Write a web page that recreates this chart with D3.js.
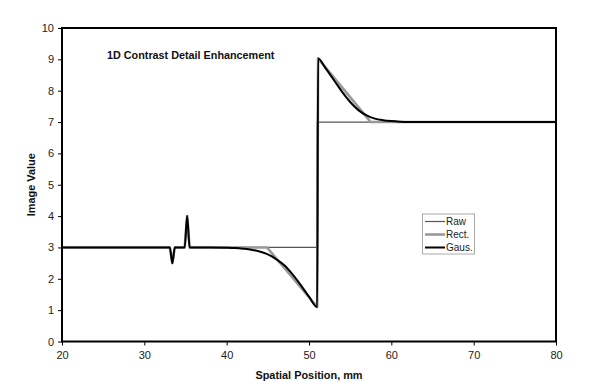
<!DOCTYPE html>
<html><head><meta charset="utf-8">
<script src="https://cdn.jsdelivr.net/npm/d3@7"></script>
<style>
html,body{margin:0;padding:0;background:#fff;}
text{font-family:"Liberation Sans",Arial,sans-serif;}
</style></head>
<body><svg id="c" width="600" height="387"></svg>
<script>
// Data
const rawX   = [20, 33.1, 33.4, 33.7, 34.9, 35.2, 35.5, 51.0, 51.0, 80];
const rawY   = [3,  3,    2.5,  3,    3,    4,    3,    3,    7,    7];
const rectX  = [20, 33.1, 33.4, 33.7, 34.9, 35.2, 35.5, 44.9, 51.0, 51.1, 57.5, 80];
const rectY  = [3,  3,    2.5,  3,    3,    4,    3,    3,    1.1,  9.03, 7,    7];
const gausX  = [20, 33.1, 33.4, 33.7, 34.9, 35.2, 35.5, 38, 40, 41, 42, 43, 44, 45, 46, 47, 48, 49, 50, 51.0,
                51.1, 52, 53, 54, 55, 56, 57, 58, 59, 60, 61, 62, 80];
const gausY  = [3,  3,    2.5,  3,    3,    4,    3,    3.0, 2.99, 2.98, 2.96, 2.93, 2.87, 2.78, 2.63, 2.43, 2.14, 1.80, 1.43, 1.1,
                9.03, 8.72, 8.35, 7.97, 7.64, 7.38, 7.21, 7.11, 7.06, 7.03, 7.01, 7.0, 7.0];
const seriesNames = ["Raw", "Rect.", "Gaus."];
const xTicks = [20, 30, 40, 50, 60, 70, 80];
const yTicks = [0, 1, 2, 3, 4, 5, 6, 7, 8, 9, 10];
const titleText = "1D Contrast Detail Enhancement";
const xTitle = "Spatial Position, mm";
const yTitle = "Image Value";

const svg = d3.select("#c");
const L = 62, R = 556, T = 28, B = 341.5;
const x = d3.scaleLinear().domain([20, 80]).range([L, R]);
const y = d3.scaleLinear().domain([0, 10]).range([B, T]);

// axes
const ax = svg.append("g").attr("transform", `translate(0,${B})`)
  .call(d3.axisBottom(x).tickValues(xTicks).tickSize(4).tickPadding(6));
const ay = svg.append("g").attr("transform", `translate(${L},0)`)
  .call(d3.axisLeft(y).tickValues(yTicks).tickSize(4).tickPadding(4));
[ax, ay].forEach(g => {
  g.select(".domain").remove();
  g.selectAll("line").attr("stroke", "#000");
  g.selectAll("text").attr("font-size", 11).attr("fill", "#222")
    .attr("font-family", "Liberation Sans, Arial, sans-serif");
});

const styles = [
  {c: "#555", w: 1.2},
  {c: "#999", w: 2.6},
  {c: "#000", w: 2}
];
const data = [
  rawX.map((d, i) => [d, rawY[i]]),
  rectX.map((d, i) => [d, rectY[i]]),
  gausX.map((d, i) => [d, gausY[i]])
];
const curves = [d3.curveLinear, d3.curveLinear, d3.curveMonotoneX];
data.forEach((pts, i) => {
  svg.append("path").datum(pts)
    .attr("fill", "none").attr("stroke", styles[i].c).attr("stroke-width", styles[i].w)
    .attr("stroke-linejoin", "round")
    .attr("d", d3.line().x(d => x(d[0])).y(d => y(d[1])).curve(curves[i]));
});

// frame
svg.append("rect").attr("x", L).attr("y", T).attr("width", R - L).attr("height", B - T)
  .attr("fill", "none").attr("stroke", "#000").attr("stroke-width", 2);

// title
svg.append("text").attr("x", 107).attr("y", 59).attr("font-size", 10.8).attr("font-weight", "bold")
  .attr("fill", "#111").text(titleText);
// axis titles
svg.append("text").attr("x", (L + R) / 2).attr("y", 379).attr("text-anchor", "middle")
  .attr("font-size", 10.9).attr("font-weight", "bold").attr("fill", "#111").text(xTitle);
svg.append("text").attr("transform", `translate(35,${(T + B) / 2}) rotate(-90)`).attr("text-anchor", "middle")
  .attr("font-size", 10.9).attr("font-weight", "bold").attr("fill", "#111").text(yTitle);

// legend
const lg = svg.append("g");
lg.append("rect").attr("x", 422.5).attr("y", 214).attr("width", 52).attr("height", 40)
  .attr("fill", "#fff").attr("stroke", "#aaa").attr("stroke-width", 1);
seriesNames.forEach((n, i) => {
  const yy = 221.5 + i * 13;
  lg.append("line").attr("x1", 425).attr("x2", 445).attr("y1", yy).attr("y2", yy)
    .attr("stroke", styles[i].c).attr("stroke-width", styles[i].w);
  lg.append("text").attr("x", 446).attr("y", yy + 3.5).attr("font-size", 10).attr("fill", "#222").text(n);
});
</script></body></html>
